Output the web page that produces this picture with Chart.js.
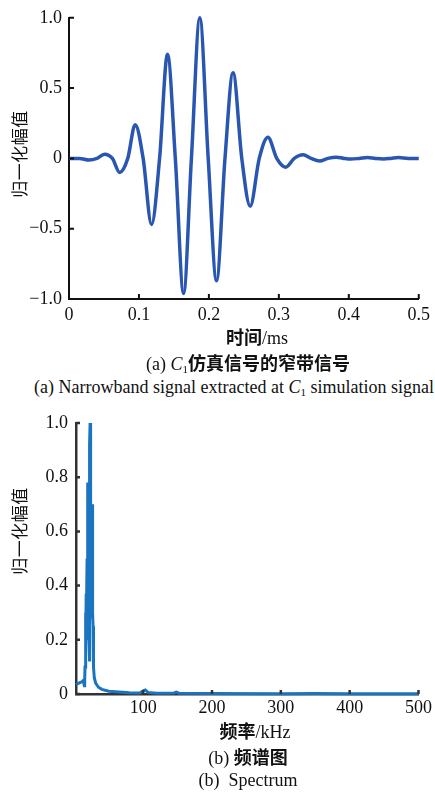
<!DOCTYPE html>
<html>
<head>
<meta charset="utf-8">
<script src="https://cdn.jsdelivr.net/npm/chart.js@4.4.1/dist/chart.umd.min.js"></script>
<style>
  body { margin: 0; background: #fff; }
  #wrap { position: relative; width: 435px; height: 794px; overflow: hidden;
          font-family: "Liberation Serif", "Times New Roman", Times, "Noto Sans CJK SC", serif; color: #111; }
  canvas { position: absolute; left: 0; }
  .t { position: absolute; transform: translate(-50%, -50%); white-space: nowrap; font-size: 18px; }
  .zh { font-family: "Noto Sans CJK SC", sans-serif; font-weight: bold; font-size: 18px; }
  .yt { position: absolute; transform: translate(-50%, -50%) rotate(-90deg); white-space: nowrap;
        font-family: "Noto Sans CJK SC", sans-serif; font-size: 17px; letter-spacing: 0.5px; }
  sub { font-size: 11px; vertical-align: -3px; }
</style>
</head>
<body>
<div id="wrap">
  <canvas id="sig" width="435" height="330" style="top:0"></canvas>
  <canvas id="spec" width="435" height="320" style="top:400px"></canvas>

  <div class="yt" style="left:18px; top:154px">归一化幅值</div>
  <div class="t" style="left:257px; top:336px"><span class="zh">时间</span>/ms</div>
  <div class="t" style="left:248px; top:362px">(a) <i>C</i><sub>1</sub><span class="zh">仿真信号的窄带信号</span></div>
  <div class="t" style="left:234px; top:387px">(a) Narrowband signal extracted at <i>C</i><sub>1</sub> simulation signal</div>

  <div class="yt" style="left:18px; top:531px">归一化幅值</div>
  <div class="t" style="left:255px; top:730px"><span class="zh">频率</span>/kHz</div>
  <div class="t" style="left:248px; top:756px">(b) <span class="zh">频谱图</span></div>
  <div class="t" style="left:248px; top:780px">(b)&nbsp; Spectrum</div>
</div>
<script>
// (a) narrowband signal
const timeMs = [0, 0.015, 0.0287, 0.040, 0.0508, 0.062, 0.0725, 0.084, 0.0946, 0.106,
  0.118, 0.1295, 0.1408, 0.152, 0.1638, 0.175, 0.187, 0.199, 0.2109, 0.223,
  0.2345, 0.247, 0.259, 0.272, 0.2844, 0.297, 0.3098, 0.322, 0.3347, 0.346,
  0.3583, 0.370, 0.382, 0.393, 0.403, 0.415, 0.4266, 0.438, 0.450, 0.460,
  0.471, 0.485, 0.5];
const amplitude = [0, 0, -0.012, 0, 0.03, 0, -0.10, 0, 0.24, 0,
  -0.47, 0, 0.74, 0, -0.96, 0, 1.0, 0, -0.87, 0,
  0.61, 0, -0.34, 0, 0.15, 0, -0.063, 0, 0.026, 0,
  -0.019, 0, 0.009, 0, -0.005, 0, 0.007, 0, -0.004, 0,
  0.006, 0, 0];

// (b) spectrum
const freqKHz = [2.4, 5, 8, 11, 13, 14.5, 15, 15.5, 16, 16.5, 16.8, 17.2, 17.6, 18, 18.5,
  19, 19.4, 19.8, 20.3, 20.8, 21.3, 21.6, 22, 22.3, 22.6, 22.9, 23.3, 23.6, 24, 24.5,
  25, 25.5, 26, 26.3, 26.7, 27.2, 27.6, 28, 29, 31, 35, 40, 50, 60, 80,
  95, 100, 103, 107, 120, 145, 148, 152, 200, 300, 350, 400, 500];
const spectrum = [0.035, 0.038, 0.042, 0.045, 0.05, 0.03, 0.05, 0.1, 0.2, 0.3, 0.15, 0.37, 0.2, 0.35, 0.5,
  0.45, 0.78, 0.4, 0.55, 0.3, 0.2, 0.12, 0.35, 0.6, 0.92, 1.0, 0.55, 0.7, 0.4, 0.3,
  0.45, 0.28, 0.5, 0.7, 0.3, 0.25, 0.14, 0.1, 0.06, 0.04, 0.025, 0.017, 0.01, 0.008, 0.005,
  0.004, 0.012, 0.015, 0.006, 0.003, 0.004, 0.007, 0.003, 0.002, 0.001, 0.002, 0.001, 0.001];

const sigXTicks = [0, 0.1, 0.2, 0.3, 0.4, 0.5];
const sigYTicks = [-1, -0.5, 0, 0.5, 1];
const specXTicks = [100, 200, 300, 400, 500];
const specYTicks = [0, 0.2, 0.4, 0.6, 0.8, 1.0];

const tickFont = { family: '"Liberation Serif", "Times New Roman", serif', size: 18 };

// tick marks pointing into the plot
const innerTicks = {
  id: 'innerTicks',
  afterDraw(chart, args, opts) {
    const ctx = chart.ctx, a = chart.chartArea;
    const len = opts.len || 5;
    ctx.save();
    ctx.strokeStyle = opts.color || '#222';
    ctx.lineWidth = opts.width || 2;
    ctx.beginPath();
    chart.scales.x.ticks.forEach(t => {
      const px = chart.scales.x.getPixelForValue(t.value);
      ctx.moveTo(px, a.bottom); ctx.lineTo(px, a.bottom - len);
    });
    chart.scales.y.ticks.forEach(t => {
      const py = chart.scales.y.getPixelForValue(t.value);
      ctx.moveTo(a.left, py); ctx.lineTo(a.left + len, py);
    });
    ctx.stroke();
    ctx.restore();
  }
};

function fixTicks(list) {
  return scale => { scale.ticks = list.map(v => ({ value: v })); };
}

function axes(o) {
  return {
    x: {
      type: 'linear', min: o.xmin, max: o.xmax,
      afterBuildTicks: fixTicks(o.xticks),
      afterFit: s => { s.height = o.xh; },
      grid: { display: false, drawTicks: false },
      border: { display: true, color: o.axisColor, width: o.axisWidth },
      ticks: { font: tickFont, color: '#111', padding: o.xpad, maxRotation: 0, autoSkip: false,
               callback: o.xfmt }
    },
    y: {
      min: o.ymin, max: o.ymax,
      afterBuildTicks: fixTicks(o.yticks),
      afterFit: s => { s.width = o.yw; },
      grid: { display: false, drawTicks: false },
      border: { display: true, color: o.axisColor, width: o.axisWidth },
      ticks: { font: tickFont, color: '#111', padding: o.ypad, callback: o.yfmt }
    }
  };
}

new Chart(document.getElementById('sig'), {
  type: 'line',
  data: {
    datasets: [{
      data: timeMs.map((t, i) => ({ x: t, y: amplitude[i] })),
      borderColor: '#2956b0', borderWidth: 3.5, pointRadius: 0,
      cubicInterpolationMode: 'monotone', clip: 8
    }]
  },
  options: {
    responsive: false, animation: false,
    layout: { padding: { top: 14, right: 13, left: 0, bottom: 0 } },
    plugins: { legend: { display: false }, tooltip: { enabled: false },
               innerTicks: { len: 5, color: '#111', width: 2 } },
    scales: axes({
      xmin: 0, xmax: 0.5, ymin: -1, ymax: 1, xticks: sigXTicks, yticks: sigYTicks,
      xh: 31, yw: 69, xpad: 5, ypad: 7, axisColor: '#111', axisWidth: 2,
      xfmt: v => v === 0 ? '0' : String(v),
      yfmt: v => v === 0 ? '0' : (v < 0 ? '\u2212' : '') + Math.abs(v).toFixed(1)
    })
  },
  plugins: [innerTicks]
});

new Chart(document.getElementById('spec'), {
  type: 'line',
  data: {
    datasets: [{
      data: freqKHz.map((f, i) => ({ x: f, y: spectrum[i] })),
      borderColor: '#1a74c0', borderWidth: 3, pointRadius: 0, tension: 0, clip: 8
    }]
  },
  options: {
    responsive: false, animation: false,
    layout: { padding: { top: 23, right: 14, left: 0, bottom: 0 } },
    plugins: { legend: { display: false }, tooltip: { enabled: false },
               innerTicks: { len: 4, color: '#333', width: 2.5 } },
    scales: axes({
      xmin: 2.4, xmax: 500, ymin: 0, ymax: 1, xticks: specXTicks, yticks: specYTicks,
      xh: 26, yw: 76, xpad: 3, ypad: 8, axisColor: '#333', axisWidth: 2.5,
      xfmt: v => String(v),
      yfmt: v => v === 0 ? '0' : v.toFixed(1)
    })
  },
  plugins: [innerTicks]
});
</script>
</body>
</html>
